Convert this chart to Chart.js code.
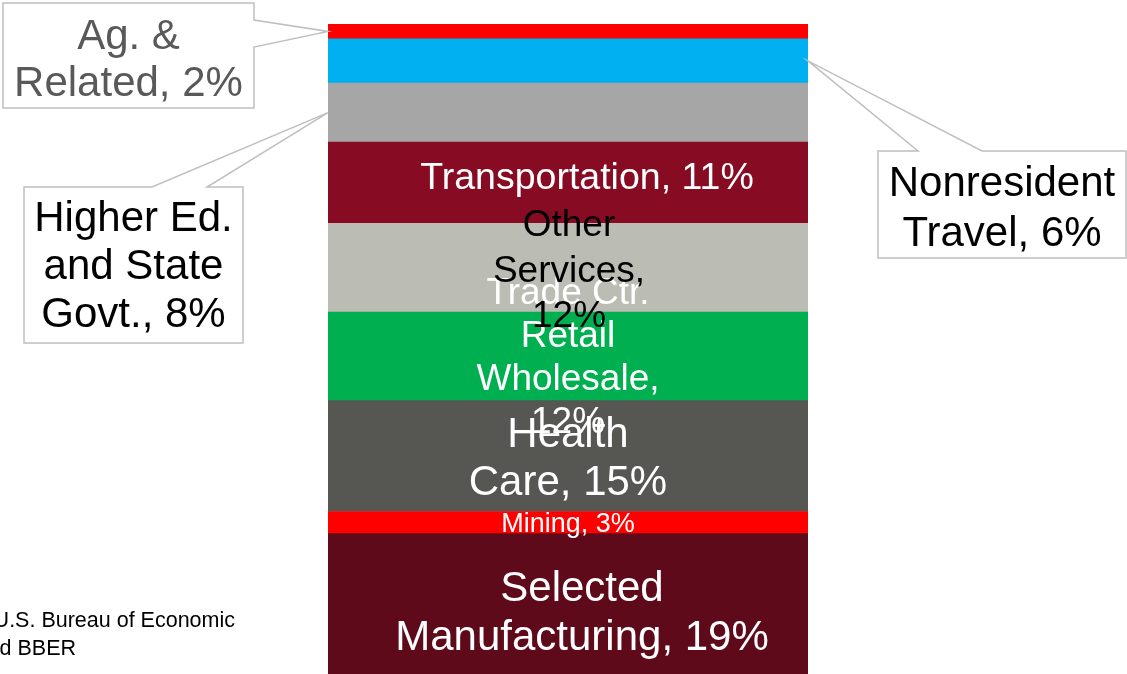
<!DOCTYPE html>
<html>
<head>
<meta charset="utf-8">
<script src="https://cdn.jsdelivr.net/npm/chart.js@4/dist/chart.umd.min.js"></script>
<style>
  body { margin: 0; background: #fff; overflow: hidden; }
</style>
</head>
<body>
<canvas id="shares" width="1127" height="674"></canvas>
<script>
// industry shares, bottom of the bar to the top
const categories = ['Selected Manufacturing', 'Mining', 'Health Care', 'Trade Ctr. Retail Wholesale',
  'Other Services', 'Transportation', 'Higher Ed. and State Govt.', 'Nonresident Travel', 'Ag. & Related'];
const shares = [19, 3, 15, 12, 12, 11, 8, 6, 2];
const labelLines = [
  ['Selected', 'Manufacturing, 19%'],
  ['Mining, 3%'],
  ['Health', 'Care, 15%'],
  ['Trade Ctr.', 'Retail', 'Wholesale,', '12%'],
  ['Other', 'Services,', '12%'],
  ['Transportation, 11%'],
  ['Higher Ed.', 'and State', 'Govt., 8%'],
  ['Nonresident', 'Travel, 6%'],
  ['Ag. &', 'Related, 2%']
];
const colors = ['#5E0A1A', '#FF0000', '#565753', '#00B050', '#BBBDB4', '#870C23', '#A6A6A6', '#00B0F0', '#FF0000'];
const sourceLines = ['Source: U.S. Bureau of Economic', 'Analysis and BBER'];

const FONT = '"Liberation Sans", Arial, sans-serif';

// how each label is drawn (inside the bar or in a callout box)
const inside = {
  0: { size: 42, lh: 49, color: '#fff', dx: 14, dy: 10 },
  1: { size: 27, lh: 30, color: '#fff', dx: 0, dy: 2 },
  2: { size: 42, lh: 48, color: '#fff', dx: 0, dy: 3 },
  3: { size: 37, lh: 43, color: '#fff', dx: 0, dy: 2 },
  4: { size: 37, lh: 45.5, color: '#000', dx: 1, dy: 4 },
  5: { size: 37.5, lh: 42, color: '#fff', dx: 19, dy: -4 }
};
const callouts = {
  6: { box: [24, 187, 243, 343], edge: 'top', a: 152, b: 207, side: 'left', color: '#000', size: 42, lh: 48, dy: 2 },
  7: { box: [878, 151, 1126, 258], edge: 'top', a: 918, b: 982, side: 'right', color: '#000', size: 42, lh: 50, dy: 5 },
  8: { box: [3, 3, 254, 108], edge: 'right', a: 20, b: 47, side: 'left', color: '#595959', size: 42, lh: 47, dy: 5 }
};

function drawLines(ctx, lines, cx, cy, size, lh, color) {
  ctx.font = size + 'px ' + FONT;
  ctx.fillStyle = color;
  ctx.textAlign = 'center';
  ctx.textBaseline = 'middle';
  const y0 = cy - (lines.length - 1) * lh / 2;
  lines.forEach((t, i) => ctx.fillText(t, cx, y0 + i * lh));
}

const labelPlugin = {
  id: 'labels',
  afterDatasetsDraw(chart) {
    const ctx = chart.ctx;
    ctx.save();
    chart.data.datasets.forEach((ds, i) => {
      const bar = chart.getDatasetMeta(i).data[0];
      const midY = (bar.y + bar.base) / 2;
      if (inside[i]) {
        const s = inside[i];
        drawLines(ctx, labelLines[i], bar.x + s.dx, midY + s.dy, s.size, s.lh, s.color);
      } else if (callouts[i]) {
        const c = callouts[i];
        const ax = c.side === 'left' ? bar.x - bar.width / 2 : bar.x + bar.width / 2;
        const [x1, y1, x2, y2] = c.box;
        ctx.beginPath();
        if (c.edge === 'top') {
          ctx.moveTo(x1, y1); ctx.lineTo(c.a, y1); ctx.lineTo(ax, midY); ctx.lineTo(c.b, y1);
          ctx.lineTo(x2, y1); ctx.lineTo(x2, y2); ctx.lineTo(x1, y2);
        } else {
          ctx.moveTo(x1, y1); ctx.lineTo(x2, y1); ctx.lineTo(x2, c.a); ctx.lineTo(ax, midY);
          ctx.lineTo(x2, c.b); ctx.lineTo(x2, y2); ctx.lineTo(x1, y2);
        }
        ctx.closePath();
        ctx.fillStyle = '#fff';
        ctx.fill();
        ctx.strokeStyle = '#BFBFBF';
        ctx.lineWidth = 1.5;
        ctx.stroke();
        drawLines(ctx, labelLines[i], (x1 + x2) / 2, (y1 + y2) / 2 + c.dy, c.size, c.lh, c.color);
      }
    });
    // source note, partly cut off at the left edge
    ctx.font = '21.5px ' + FONT;
    ctx.fillStyle = '#000';
    ctx.textAlign = 'right';
    ctx.textBaseline = 'middle';
    ctx.fillText(sourceLines[0], 235, 621);
    ctx.fillText(sourceLines[1], 76, 649);
    ctx.restore();
  }
};

new Chart(document.getElementById('shares'), {
  type: 'bar',
  data: {
    labels: [''],
    datasets: categories.map((name, i) => ({
      label: name,
      data: [shares[i]],
      backgroundColor: colors[i],
      borderWidth: 0,
      barPercentage: 1,
      categoryPercentage: 1
    }))
  },
  options: {
    responsive: false,
    animation: false,
    layout: { padding: { left: 328, right: 319, top: 24, bottom: 0 } },
    plugins: { legend: { display: false }, tooltip: { enabled: false } },
    scales: {
      x: { stacked: true, display: false },
      y: { stacked: true, display: false, min: 0, max: 88 }
    }
  },
  plugins: [labelPlugin]
});
</script>
</body>
</html>
